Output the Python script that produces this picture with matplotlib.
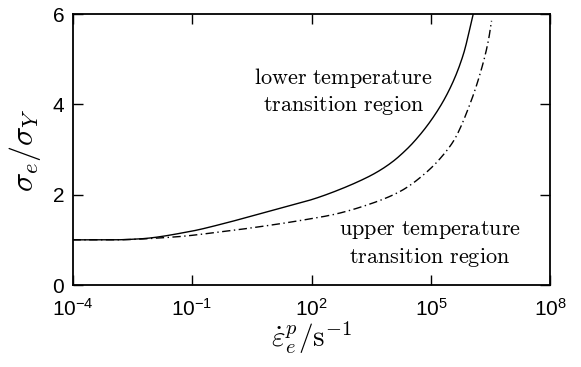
import numpy as np
import matplotlib.pyplot as plt
from matplotlib.ticker import FixedLocator, FuncFormatter

plt.rcParams["font.family"] = ["Liberation Sans", "DejaVu Sans"]
plt.rcParams["mathtext.fontset"] = "cm"

# strain rate (log10) and normalised stress
lower_lograte = [-4.0, -3.0, -2.34, -1.08, -0.25, 0.59, 1.43, 2.0, 2.55, 3.39,
                 3.72, 4.05, 4.3, 4.56, 5.06, 5.48, 5.81, 6.06]
lower_stress = [1.0, 1.0, 1.02, 1.18, 1.35, 1.55, 1.75, 1.89, 2.06, 2.38,
                2.54, 2.74, 2.93, 3.16, 3.72, 4.36, 5.10, 6.0]

upper_lograte = [-4.0, -3.0, -1.5, -0.25, 1.01, 1.8, 2.55, 3.39, 4.22, 4.89,
                 5.39, 5.6, 5.98, 6.23, 6.44, 6.52]
upper_stress = [1.0, 1.0, 1.06, 1.18, 1.33, 1.44, 1.56, 1.77, 2.07, 2.50,
                2.97, 3.24, 4.01, 4.67, 5.41, 5.85]

xticks = [1e-4, 1e-1, 1e2, 1e5, 1e8]
yticks = [0, 2, 4, 6]


def pchip(x, y, n=400):
    # monotone cubic (Fritsch-Carlson) through the read points
    x = np.asarray(x, float)
    y = np.asarray(y, float)
    h = np.diff(x)
    d = np.diff(y) / h
    m = np.zeros_like(y)
    m[0], m[-1] = d[0], d[-1]
    for i in range(1, len(x) - 1):
        if d[i - 1] * d[i] <= 0:
            m[i] = 0
        else:
            w1 = 2 * h[i] + h[i - 1]
            w2 = h[i] + 2 * h[i - 1]
            m[i] = (w1 + w2) / (w1 / d[i - 1] + w2 / d[i])
    xs = np.linspace(x[0], x[-1], n)
    k = np.clip(np.searchsorted(x, xs) - 1, 0, len(x) - 2)
    t = (xs - x[k]) / h[k]
    h00 = 2 * t**3 - 3 * t**2 + 1
    h10 = t**3 - 2 * t**2 + t
    h01 = -2 * t**3 + 3 * t**2
    h11 = t**3 - t**2
    ys = h00 * y[k] + h10 * h[k] * m[k] + h01 * y[k + 1] + h11 * h[k] * m[k + 1]
    return 10 ** xs, ys


fig = plt.figure(figsize=(5.81, 3.67), dpi=100)
ax = fig.add_axes([0.1248, 0.2234, 0.8227, 0.7384])

x1, y1 = pchip(lower_lograte, lower_stress)
x2, y2 = pchip(upper_lograte, upper_stress)
ax.plot(x1, y1, color="black", lw=1.0)
ax.plot(x2, y2, color="black", lw=1.0, dashes=(6, 2.5, 1, 2.5))

ax.set_xscale("log")
ax.set_xlim(1e-4, 1e8)
ax.set_ylim(0, 6)
ax.xaxis.set_major_locator(FixedLocator(xticks))
ax.xaxis.set_minor_locator(FixedLocator([]))
ax.yaxis.set_major_locator(FixedLocator(yticks))
ax.xaxis.set_major_formatter(FuncFormatter(
    lambda v, p: r"$\mathregular{10^{%d}}$" % round(np.log10(v))))
ax.tick_params(direction="in", length=7, width=1, labelsize=15,
               top=True, right=True)
ax.tick_params(axis="x", pad=9)
ax.tick_params(axis="y", pad=6)
for s in ax.spines.values():
    s.set_linewidth(1.3)

ax.text(10 ** 2.8, 4.58, r"$\mathrm{lower\ temperature}$", fontsize=16,
        ha="center", va="center")
ax.text(10 ** 2.8, 3.97, r"$\mathrm{transition\ region}$", fontsize=16,
        ha="center", va="center")
ax.text(10 ** 4.97, 1.21, r"$\mathrm{upper\ temperature}$", fontsize=16,
        ha="center", va="center")
ax.text(10 ** 4.97, 0.60, r"$\mathrm{transition\ region}$", fontsize=16,
        ha="center", va="center")

ax.set_ylabel(r"$\sigma_e/\sigma_Y$", fontsize=23, labelpad=7)
ax.set_xlabel(r"$\dot{\varepsilon}^p_e/\mathrm{s}^{-1}$", fontsize=21, labelpad=0)

fig.savefig("out.png", dpi=100)
